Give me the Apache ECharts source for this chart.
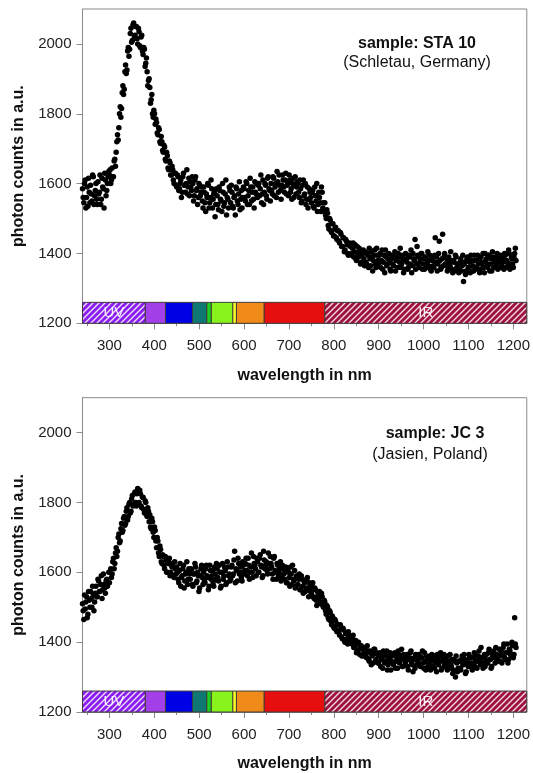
<!DOCTYPE html>
<html><head><meta charset="utf-8">
<script src="https://cdn.jsdelivr.net/npm/echarts@6/dist/echarts.min.js"></script>
<style>html,body{margin:0;padding:0;background:#fff}#c{width:533px;height:773px}</style>
</head><body><div id="c"></div>
<script>
// wavelength grids of the measured spectra (nm): two interleaved read-outs
const wlStartA = 240, wlStartB = 241.5, wlStep = 3;
// photon counts, sample STA 10 (Schletau, Germany)
const staCountsA = [
1585,1545,1610,1560,1535,1575,1595,1550,1620,1565,
1600,1540,1570,1625,1555,1590,1530,1610,1580,1620,
1625,1600,1645,1620,1670,1690,1740,1760,1820,1815,
1880,1870,1940,1925,1990,1985,2045,2010,2060,2025,
2050,2000,2035,1990,2025,1970,1985,1945,1920,1895,
1875,1840,1800,1810,1770,1775,1740,1755,1715,1720,
1690,1705,1665,1680,1640,1660,1625,1640,1600,1630,
1590,1620,1585,1610,1575,1630,1595,1600,1570,1615,
1605,1580,1600,1565,1620,1585,1560,1595,1575,1550,
1590,1545,1570,1600,1530,1560,1585,1555,1575,1540,
1565,1525,1580,1550,1600,1535,1570,1510,1555,1590,
1545,1575,1530,1565,1590,1550,1570,1525,1580,1560,
1585,1550,1600,1565,1540,1590,1575,1555,1605,1570,
1560,1600,1585,1545,1610,1575,1595,1555,1620,1580,
1600,1570,1615,1590,1560,1605,1625,1580,1595,1610,
1575,1630,1595,1565,1610,1585,1600,1560,1620,1590,
1600,1560,1585,1550,1610,1570,1540,1590,1555,1575,
1545,1580,1530,1565,1600,1540,1560,1520,1575,1545,
1545,1500,1515,1470,1495,1460,1485,1450,1475,1440,
1465,1430,1455,1420,1445,1410,1435,1400,1425,1420,
1395,1430,1405,1385,1420,1390,1410,1375,1400,1385,
1405,1370,1395,1415,1365,1390,1380,1410,1360,1395,
1370,1400,1380,1355,1395,1410,1365,1385,1375,1350,
1395,1365,1405,1380,1360,1390,1415,1370,1385,1355,
1400,1375,1360,1390,1410,1365,1385,1440,1370,1395,
1360,1385,1400,1370,1355,1390,1375,1365,1395,1350,
1380,1360,1445,1390,1370,1435,1355,1385,1365,1400,
1370,1350,1390,1365,1380,1345,1375,1395,1360,1370,
1355,1385,1365,1320,1375,1350,1390,1360,1345,1380,
1365,1395,1355,1380,1370,1345,1390,1375,1360,1400,
1385,1360,1395,1370,1350,1390,1380,1365,1400,1375,
1360,1390,1375,1355,1395,1380,1365,1400,1370,1385,
1360,1400,1380
];
const staCountsB = [
1560,1600,1530,1590,1615,1545,1570,1625,1540,1580,
1555,1605,1575,1540,1615,1585,1630,1565,1600,1635,
1640,1610,1620,1665,1650,1720,1725,1800,1790,1860,
1855,1920,1915,1980,1965,2030,2005,2055,2020,2050,
2015,2045,1995,2020,1980,1990,1935,1960,1880,1900,
1830,1855,1790,1800,1785,1745,1760,1720,1735,1695,
1710,1670,1690,1645,1665,1625,1650,1610,1630,1595,
1625,1580,1600,1560,1620,1595,1575,1640,1590,1565,
1590,1620,1550,1610,1580,1540,1600,1565,1590,1530,
1575,1520,1560,1595,1545,1610,1530,1570,1505,1585,
1540,1590,1555,1520,1575,1545,1610,1560,1530,1580,
1595,1535,1560,1510,1585,1540,1605,1555,1530,1590,
1560,1605,1540,1580,1615,1550,1590,1530,1575,1600,
1595,1565,1625,1570,1540,1600,1565,1615,1585,1550,
1580,1620,1565,1600,1635,1575,1595,1555,1625,1590,
1610,1570,1600,1625,1575,1555,1615,1595,1570,1605,
1575,1610,1545,1595,1565,1600,1555,1530,1585,1560,
1575,1535,1590,1550,1520,1575,1545,1590,1530,1520,
1510,1525,1480,1500,1465,1485,1450,1470,1445,1465,
1435,1460,1420,1445,1405,1440,1425,1395,1430,1400,
1415,1390,1425,1380,1400,1415,1370,1395,1410,1365,
1375,1400,1360,1385,1405,1350,1395,1370,1415,1380,
1395,1360,1410,1375,1345,1390,1370,1400,1355,1385,
1370,1395,1350,1385,1400,1375,1360,1395,1345,1380,
1385,1355,1395,1370,1345,1400,1380,1355,1420,1390,
1375,1400,1355,1385,1390,1360,1405,1380,1355,1385,
1365,1395,1375,1350,1400,1380,1360,1455,1390,1370,
1385,1360,1375,1405,1355,1380,1350,1390,1370,1345,
1375,1350,1395,1370,1340,1385,1360,1375,1395,1350,
1350,1380,1360,1395,1385,1355,1370,1400,1345,1380,
1370,1395,1350,1385,1405,1360,1375,1390,1355,1385,
1395,1365,1385,1400,1360,1375,1410,1355,1390,1370,
1390,1415
];
// photon counts, sample JC 3 (Jasien, Poland)
const jcCountsA = [
1510,1465,1495,1530,1480,1520,1545,1500,1535,1515,
1560,1530,1575,1545,1590,1550,1565,1540,1580,1570,
1570,1610,1595,1640,1625,1670,1660,1710,1690,1740,
1720,1760,1740,1785,1760,1800,1775,1820,1795,1830,
1790,1840,1800,1825,1785,1815,1770,1800,1760,1775,
1765,1725,1745,1700,1720,1670,1690,1645,1665,1625,
1645,1610,1635,1600,1630,1590,1620,1625,1585,1610,
1615,1580,1605,1560,1590,1620,1575,1600,1565,1610,
1580,1605,1560,1595,1615,1575,1590,1555,1610,1585,
1600,1570,1620,1585,1560,1605,1590,1570,1615,1580,
1610,1575,1600,1560,1625,1590,1605,1570,1615,1595,
1580,1620,1595,1660,1610,1575,1625,1600,1585,1630,
1595,1625,1605,1640,1580,1615,1600,1645,1620,1590,
1630,1600,1650,1615,1590,1635,1620,1605,1655,1610,
1625,1595,1640,1605,1580,1620,1600,1630,1585,1610,
1580,1615,1570,1600,1560,1595,1620,1575,1555,1590,
1565,1595,1550,1580,1540,1570,1555,1585,1530,1560,
1540,1570,1525,1550,1505,1535,1545,1510,1530,1500,
1515,1480,1500,1465,1485,1450,1470,1440,1460,1430,
1450,1420,1440,1410,1435,1400,1425,1395,1420,1405,
1395,1420,1385,1405,1375,1400,1365,1390,1380,1360,
1385,1355,1375,1345,1370,1360,1340,1380,1350,1365,
1340,1370,1350,1325,1365,1345,1375,1335,1355,1320,
1360,1335,1370,1345,1325,1365,1350,1380,1330,1355,
1340,1365,1320,1355,1375,1335,1350,1325,1360,1345,
1365,1330,1355,1340,1370,1320,1350,1335,1360,1345,
1330,1360,1340,1315,1355,1345,1370,1325,1350,1335,
1355,1320,1345,1365,1330,1310,1350,1300,1340,1325,
1345,1320,1360,1335,1350,1315,1340,1365,1330,1355,
1335,1370,1345,1325,1360,1350,1385,1340,1355,1330,
1365,1340,1380,1350,1330,1370,1355,1385,1345,1360,
1345,1375,1360,1395,1350,1370,1340,1380,1365,1400,
1355,1470,1385
];
const jcCountsB = [
1490,1535,1515,1470,1545,1500,1525,1560,1490,1540,
1530,1580,1545,1565,1525,1595,1555,1575,1560,1600,
1600,1585,1630,1610,1655,1645,1700,1685,1725,1715,
1755,1735,1775,1750,1795,1770,1810,1790,1825,1800,
1825,1795,1835,1790,1815,1780,1805,1765,1785,1745,
1730,1755,1715,1730,1690,1700,1655,1675,1630,1650,
1620,1645,1600,1625,1640,1600,1615,1590,1630,1595,
1600,1570,1625,1585,1610,1555,1595,1630,1580,1595,
1610,1565,1595,1625,1570,1600,1545,1590,1620,1565,
1575,1610,1590,1550,1620,1580,1605,1560,1595,1625,
1585,1620,1555,1600,1580,1615,1565,1630,1590,1575,
1615,1590,1635,1570,1605,1640,1595,1615,1575,1620,
1605,1640,1590,1620,1600,1655,1585,1625,1610,1640,
1600,1640,1620,1585,1660,1610,1630,1595,1625,1645,
1615,1580,1645,1600,1625,1590,1610,1575,1620,1595,
1600,1570,1610,1585,1615,1565,1580,1605,1560,1585,
1580,1550,1590,1560,1575,1545,1580,1550,1570,1545,
1560,1530,1555,1520,1545,1525,1515,1540,1505,1520,
1490,1505,1470,1490,1460,1475,1445,1465,1435,1450,
1430,1450,1415,1440,1405,1425,1410,1430,1400,1410,
1410,1385,1400,1370,1395,1380,1390,1360,1385,1370,
1365,1390,1350,1375,1335,1365,1380,1345,1370,1340,
1360,1330,1355,1375,1340,1360,1320,1350,1370,1345,
1340,1365,1325,1355,1375,1340,1360,1330,1365,1345,
1360,1330,1350,1370,1340,1315,1355,1365,1335,1350,
1335,1355,1375,1325,1345,1360,1330,1350,1320,1365,
1350,1325,1345,1365,1335,1360,1320,1345,1365,1330,
1340,1360,1325,1335,1350,1320,1345,1360,1315,1345,
1325,1350,1335,1365,1310,1345,1330,1355,1340,1320,
1355,1330,1360,1345,1375,1335,1355,1325,1365,1350,
1340,1370,1350,1325,1360,1375,1340,1365,1350,1380,
1365,1340,1385,1355,1370,1395,1350,1375,1360,1390,
1365,1395
];
const xTicks = [300,400,500,600,700,800,900,1000,1100,1200];
const xMinorTicks = [250,350,450,550,650,750,850,950,1050,1150];
const yTicks = [1200,1400,1600,1800,2000];
// spectral bands (nm)
const bandStart = [240,380,425,485,517,527,575,583,645,780];
const bandEnd   = [380,425,485,517,527,575,583,645,780,1230];
const bandColors = ['#8a1cf0','#a33fe8','#0000e4','#0f7872','#20d020','#88f41c','#ffff24','#f08a18','#e60e0e','#a0103e'];
const bandHatched = [true,false,false,false,false,false,false,false,false,true];
const bandLabels = ['UV','','','','','','','','','IR'];
const bandLow = 1200, bandHigh = 1260;
const sampleNames = ['sample: STA 10','sample: JC 3'];
const sampleSites = ['(Schletau, Germany)','(Jasien, Poland)'];

const FONT = 'Liberation Sans, Arial, sans-serif';
function hatch(color){
  const c = document.createElement('canvas'); c.width = 6; c.height = 6;
  const g = c.getContext('2d');
  g.fillStyle = color; g.fillRect(0,0,6,6);
  g.strokeStyle = 'rgba(255,255,255,0.85)'; g.lineWidth = 1.4;
  g.beginPath();
  g.moveTo(-3,3); g.lineTo(3,-3);
  g.moveTo(0,6); g.lineTo(6,0);
  g.moveTo(3,9); g.lineTo(9,3);
  g.stroke();
  return c;
}
const patterns = bandColors.map((c,i)=> bandHatched[i] ? hatch(c) : null);

function pts(arr, start){ return arr.map((v,i)=>[start + i*wlStep, v]); }
const bandData = bandStart.map((s,i)=>[s, bandEnd[i], i]);
const plain = v => String(v);

const grids = [
  {left:82.5, top:9, width:448, height:314.3, show:true, borderColor:'#8a8a8a', borderWidth:1},
  {left:82.5, top:397.7, width:448, height:315, show:true, borderColor:'#8a8a8a', borderWidth:1}
];
const spectra = [[staCountsA, staCountsB],[jcCountsA, jcCountsB]];
const xAxis = [], yAxis = [], series = [], graphic = [];
[0,1].forEach(g=>{
  xAxis.push({type:'value', gridIndex:g, min:240, max:1230, position:'bottom',
    name:'wavelength in nm', nameLocation:'middle', nameGap:44,
    nameTextStyle:{fontFamily:FONT, fontSize:16, fontWeight:'bold', color:'#111'},
    axisLine:{show:true, lineStyle:{color:'#8a8a8a'}},
    axisTick:{show:true, customValues:xTicks, length:6, lineStyle:{color:'#8a8a8a'}},
    axisLabel:{customValues:xTicks, formatter:plain, margin:15, fontFamily:FONT, fontSize:15, color:'#222'},
    splitLine:{show:false}});
  xAxis.push({type:'value', gridIndex:g, min:240, max:1230, position:'bottom',
    axisLine:{show:false},
    axisTick:{show:true, customValues:xMinorTicks, length:3, lineStyle:{color:'#8a8a8a'}},
    axisLabel:{show:false}, splitLine:{show:false}});
  yAxis.push({type:'value', gridIndex:g, min:1200, max:2100,
    name:'photon counts in a.u.', nameLocation:'middle', nameGap:56,
    nameTextStyle:{fontFamily:FONT, fontSize:16, fontWeight:'bold', color:'#111'},
    axisLine:{show:true, lineStyle:{color:'#8a8a8a'}},
    axisTick:{show:true, customValues:yTicks, length:6, lineStyle:{color:'#8a8a8a'}},
    axisLabel:{customValues:yTicks, formatter:plain, margin:11, fontFamily:FONT, fontSize:15, color:'#222'},
    splitLine:{show:false}});
  const data = pts(spectra[g][0], wlStartA).concat(pts(spectra[g][1], wlStartB));
  series.push({type:'scatter', xAxisIndex:g*2, yAxisIndex:g, data:data, large:false,
    symbolSize:5.5, itemStyle:{color:'#000', opacity:1}, silent:true});
  series.push({type:'custom', xAxisIndex:g*2, yAxisIndex:g, data:bandData, silent:true, z:5,
    encode:{x:[0,1]},
    renderItem:function(params, api){
      const i = api.value(2);
      const p0 = api.coord([api.value(0), bandHigh]);
      const p1 = api.coord([api.value(1), bandLow]);
      const children = [{type:'rect',
        shape:{x:p0[0], y:p0[1], width:p1[0]-p0[0], height:p1[1]-p0[1]},
        style:{fill: patterns[i] ? {image:patterns[i], repeat:'repeat'} : bandColors[i], stroke:'#3c3c3c', lineWidth:1}}];
      if (bandLabels[i]) children.push({type:'text',
        style:{text:bandLabels[i], x:(p0[0]+p1[0])/2, y:(p0[1]+p1[1])/2, align:'center', verticalAlign:'middle',
          fill:'rgba(255,255,255,0.92)', font:'15px '+FONT}});
      return {type:'group', children:children};
    }});
});
const annPos = [[417,44,417,63],[435,434,430,455]];
[0,1].forEach(g=>{
  const p = annPos[g];
  graphic.push({type:'text', x:p[0], y:p[1], style:{text:sampleNames[g], align:'center', verticalAlign:'middle', font:'bold 16px '+FONT, fill:'#111'}});
  graphic.push({type:'text', x:p[2], y:p[3], style:{text:sampleSites[g], align:'center', verticalAlign:'middle', font:'16px '+FONT, fill:'#111'}});
});
const chart = echarts.init(document.getElementById('c'), null, {renderer:'canvas'});
chart.setOption({animation:false, grid:grids, xAxis:xAxis, yAxis:yAxis, series:series, graphic:graphic});
</script></body></html>
